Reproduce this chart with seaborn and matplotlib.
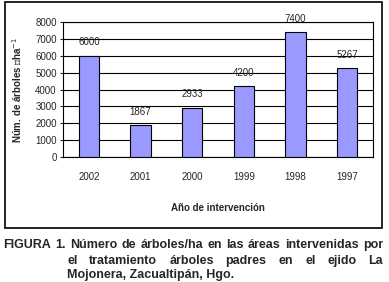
import pandas as pd
import matplotlib.pyplot as plt
import seaborn as sns
from matplotlib.patches import Rectangle

years = ['2002', '2001', '2000', '1999', '1998', '1997']
trees = [6000, 1867, 2933, 4200, 7400, 5267]

caption_1 = ['FIGURA', '1.', 'Número', 'de', 'árboles/ha', 'en', 'las', 'áreas', 'intervenidas', 'por']
caption_2 = ['el', 'tratamiento', 'árboles', 'padres', 'en', 'el', 'ejido', 'La']
caption_3 = 'Mojonera, Zacualtipán, Hgo.'

df = pd.DataFrame({'year': years, 'trees': trees})

sns.set_style('white')
plt.rcParams['font.family'] = ['Liberation Sans', 'DejaVu Sans']

fig = plt.figure(figsize=(3.89, 2.82), dpi=100)
ax = fig.add_axes([63 / 389, 1 - 157 / 282, 310 / 389, 135 / 282])

sns.barplot(x='year', y='trees', data=df, order=years, color='#9999ff',
            edgecolor='black', linewidth=0.8, width=0.39, saturation=1, ax=ax, zorder=3)

ax.set_ylim(0, 8000)
ax.set_yticks(range(0, 8001, 1000))
ax.yaxis.grid(True, color='black', linewidth=0.8)
ax.set_axisbelow(True)
for s in ax.spines.values():
    s.set_color('black')
    s.set_linewidth(0.8)

ax.tick_params(axis='y', labelsize=7, length=2.5, width=0.8, left=True, pad=2)
ax.tick_params(axis='x', labelsize=7, length=0, pad=11)

for i, v in enumerate(trees):
    ax.annotate(str(v), (i, v), xytext=(0, 6), textcoords='offset points',
                ha='center', va='bottom', fontsize=7)

ax.set_xlabel('Año de intervención', fontsize=7, fontweight='bold', labelpad=15)
ax.set_ylabel('Núm. de árboles \u25aeha$^{-1}$', fontsize=7, fontweight='bold', labelpad=8)

# outer frame
fig.patches.append(Rectangle((5 / 389, 1 - 228 / 282), 377 / 389, 226 / 282,
                             transform=fig.transFigure, fill=False,
                             edgecolor='black', linewidth=1.2))

# justified caption
renderer = fig.canvas.get_renderer()


def justified(words, x0, x1, y):
    texts = [fig.text(0, y, w, fontsize=9, fontweight='bold', va='center') for w in words]
    widths = [t.get_window_extent(renderer).width for t in texts]
    gap = (x1 - x0 - sum(widths)) / (len(words) - 1)
    x = x0
    for t, w in zip(texts, widths):
        t.set_x(x / 389)
        x += w + gap


justified(caption_1, 3, 383, 1 - 245 / 282)
justified(caption_2, 67, 383, 1 - 261 / 282)
fig.text(67 / 389, 1 - 275 / 282, caption_3, fontsize=9, fontweight='bold', va='center')

fig.savefig('out.png', dpi=100)
